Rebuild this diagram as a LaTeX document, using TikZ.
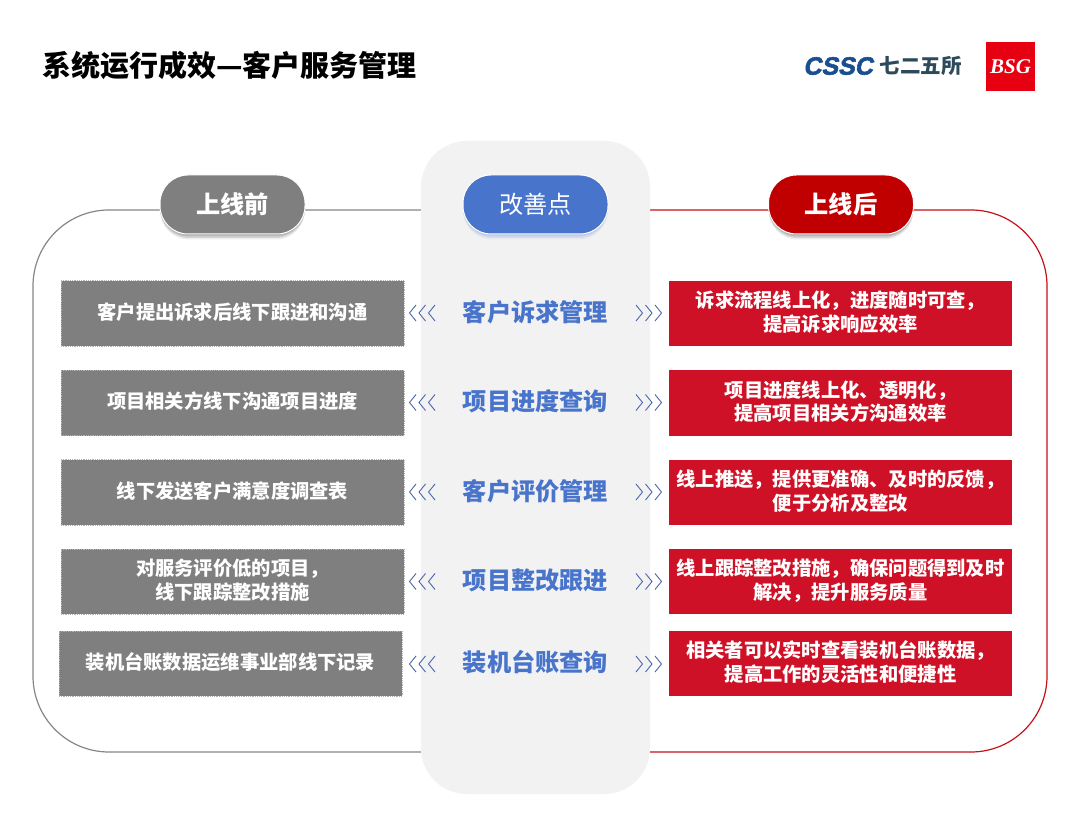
\documentclass[tikz,border=0pt]{standalone}
\usepackage{fontspec}
\setmainfont{Noto Sans CJK SC}
\newfontfamily\csscfont[FakeBold=2.2,FakeSlant=0.2]{Liberation Sans Bold}
\newfontfamily\latinserif{Liberation Serif}
\definecolor{grayfill}{HTML}{7F7F7F}
\definecolor{grayline}{HTML}{868686}
\definecolor{redfill}{HTML}{CE1126}
\definecolor{redline}{HTML}{C4121A}
\definecolor{darkred}{HTML}{C00000}
\definecolor{bluefill}{HTML}{4874CB}
\definecolor{panelfill}{HTML}{F2F2F2}
\definecolor{chevcol}{HTML}{4A66AC}
\definecolor{csscblue}{HTML}{1A4E8E}
\definecolor{cndark}{HTML}{2C4A5C}
\definecolor{bsgred}{HTML}{E60012}
\newcommand{\liftup}[1]{\raisebox{-1pt}[\height][\depth]{\begin{tabular}{@{}c@{}}#1\end{tabular}}}
\tikzset{
  x=1pt,y=-1pt,
  pill/.style={draw=white,line width=1pt,rounded corners=28pt,minimum width=145pt,minimum height=59pt,inner sep=0pt,text=white,font=\fontsize{24.2}{24}\selectfont},
  sbox/.style={minimum width=343pt,minimum height=65.5pt,inner sep=0pt,align=center,text=white,font=\bfseries\fontsize{19.3}{23}\selectfont},
  leftbox/.style={sbox,fill=grayfill,draw=black!30,dash pattern=on 1pt off 0.8pt,line width=0.5pt},
  rightbox/.style={sbox,fill=redfill},
  midtext/.style={inner sep=0pt,text=bluefill,font=\bfseries\fontsize{24.2}{24}\selectfont},
  chev/.style={draw=chevcol,line width=0.9pt},
}
\newcommand{\chevL}[1]{\foreach \i in {0,9.5,19}{\draw[chev] (416+\i,#1-8) -- (409.5+\i,#1) -- (416+\i,#1+8);}}
\newcommand{\chevR}[1]{\foreach \i in {0,9.5,19}{\draw[chev] (636+\i,#1-8) -- (642.5+\i,#1) -- (636+\i,#1+8);}}
\newcommand{\pillshadow}[2]{\foreach \d/\o in {1/.14,2.5/.12,4/.10,5.5/.07}{\fill[#2,opacity=\o,rounded corners=29pt] (#1-72.5,175+\d) rectangle (#1+72.5,234+\d);}}
\begin{document}
\begin{tikzpicture}
\useasboundingbox (0,0) rectangle (1080,818);
\fill[white] (0,0) rectangle (1080,818);
% title
\node[anchor=west,inner sep=0pt,font=\bfseries\fontsize{29}{30}\selectfont] (title) at (42,65) {系统运行成效—客户服务管理};
% logos
\node[inner sep=0pt,text=csscblue,font=\csscfont\fontsize{25}{25}\selectfont,anchor=west] (cssc) at (803,66) {CSSC};
\node[inner sep=0pt,text=cndark,font=\bfseries\fontsize{20.5}{20}\selectfont,anchor=west] (cn) at (879.5,66) {七二五所};
\node[fill=bsgred,minimum size=49pt,inner sep=0pt,text=white,font=\latinserif\bfseries\itshape\fontsize{21}{21}\selectfont] (bsg) at (1010.5,66.5) {BSG};
% outlines
\coordinate (lt) at (421,210); \coordinate (lb) at (421,752);
\coordinate (rt) at (650,210); \coordinate (rb) at (650,752);
\draw[grayline,line width=1.2pt,rounded corners=76pt] (lt) -- (33,210) -- (33,752) -- (lb);
\draw[redline,line width=1.2pt,rounded corners=76pt] (rt) -- (1047,210) -- (1047,752) -- (rb);
% panel
\fill[panelfill,rounded corners=46pt] (421,141) rectangle (650,794);
% pills
\pillshadow{232.5}{black}
\pillshadow{535.5}{bluefill}
\pillshadow{841}{black}
\node[pill,fill=grayfill,font=\bfseries\fontsize{24.2}{24}\selectfont] (before) at (232.5,204.5) {上线前};
\node[pill,fill=bluefill] (point) at (535.5,204.5) {改善点};
\node[pill,fill=darkred,font=\bfseries\fontsize{24.2}{24}\selectfont] (after) at (841,204.5) {上线后};
% rows
\node[leftbox] (l1) at (232.5,313.5) {\liftup{客户提出诉求后线下跟进和沟通}};
\node[leftbox] (l2) at (232.5,403) {\liftup{项目相关方线下沟通项目进度}};
\node[leftbox] (l3) at (232.5,492.5) {\liftup{线下发送客户满意度调查表}};
\node[leftbox] (l4) at (232.5,581.5) {\liftup{对服务评价低的项目，\\线下跟踪整改措施}};
\node[leftbox] (l5) at (230.5,663.5) {\liftup{装机台账数据运维事业部线下记录}};
\node[midtext] (m1) at (535.5,312) {客户诉求管理};
\node[midtext] (m2) at (535.5,401.5) {项目进度查询};
\node[midtext] (m3) at (535.5,491) {客户评价管理};
\node[midtext] (m4) at (535.5,580.5) {项目整改跟进};
\node[midtext] (m5) at (535.5,662) {装机台账查询};
\node[rightbox] (r1) at (840.5,313.5) {\liftup{诉求流程线上化，进度随时可查，\\提高诉求响应效率}};
\node[rightbox] (r2) at (840.5,403) {\liftup{项目进度线上化、透明化，\\提高项目相关方沟通效率}};
\node[rightbox] (r3) at (840.5,492.5) {\liftup{线上推送，提供更准确、及时的反馈，\\便于分析及整改}};
\node[rightbox] (r4) at (840.5,581.5) {\liftup{线上跟踪整改措施，确保问题得到及时\\解决，提升服务质量}};
\node[rightbox] (r5) at (840.5,663.5) {\liftup{相关者可以实时查看装机台账数据，\\提高工作的灵活性和便捷性}};
% chevrons
\foreach \y in {313,402.5,492,581.5,664}{\chevL{\y}\chevR{\y}}
\end{tikzpicture}
\end{document}
